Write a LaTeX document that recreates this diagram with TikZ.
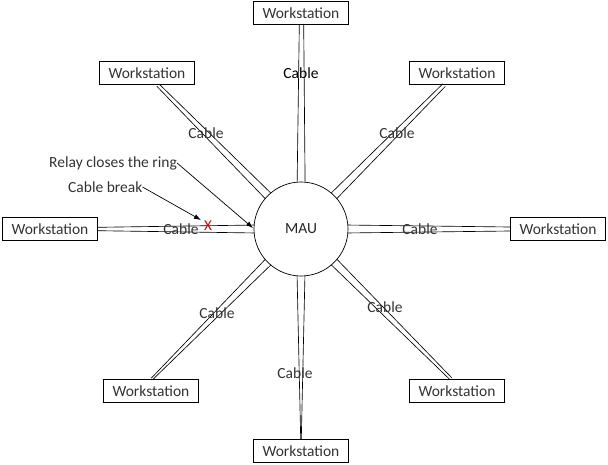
\documentclass[tikz,border=0pt]{standalone}
\usepackage{fontspec}
\setmainfont{Carlito}
\usetikzlibrary{calc,arrows.meta}
\newcommand{\fs}{\fontsize{15.5}{18}\selectfont}
\newcommand{\drawcable}[3]{%
  \coordinate (#3m) at ($(mau.center)!44pt!(#1)$);
  \draw[cable] ($(#3m)!4pt!90:(#1)$) -- ($(#1)!#2!-90:(#3m)$);
  \draw[cable] ($(#3m)!4pt!-90:(#1)$) -- ($(#1)!#2!90:(#3m)$);
}
\begin{document}
\begin{tikzpicture}[x=1pt,y=-1pt,
  ws/.style={draw, line width=0.8pt, minimum width=95pt, minimum height=23.5pt, inner sep=0pt, text=black!80, font=\fs},
  lbl/.style={text=black!80, font=\fs, inner sep=0pt},
  cable/.style={draw=black, line width=0.65pt},
  pointer/.style={draw=black, line width=0.7pt, -{Latex[length=7pt,width=5pt]}}]
\useasboundingbox (0,0) rectangle (608,464);
\node[ws] (wt) at (301,13) {Workstation};
\node[ws] (wtl) at (147,73) {Workstation};
\node[ws] (wtr) at (457,73) {Workstation};
\node[ws] (wl) at (50,229) {Workstation};
\node[ws] (wr) at (558,229) {Workstation};
\node[ws] (wbl) at (151,391) {Workstation};
\node[ws] (wbr) at (457,391) {Workstation};
\node[ws] (wb) at (301,451) {Workstation};
\node[circle, minimum size=94pt, inner sep=0pt] (mau) at (301,229) {};
\coordinate (at) at ($(wt.south)+(0.5,0)$);
\coordinate (atl) at ($(wtl.south)+(11,0)$);
\coordinate (atr) at ($(wtr.south)+(-13,0)$);
\coordinate (al) at (wl.east);
\coordinate (ar) at (wr.west);
\coordinate (abl) at ($(wbl.north)+(1,0)$);
\coordinate (abr) at ($(wbr.north)+(-6,0)$);
\coordinate (ab) at (wb.north);
\drawcable{at}{2.2pt}{ct}
\drawcable{atl}{1.6pt}{ctl}
\drawcable{atr}{1.8pt}{ctr}
\drawcable{al}{1.7pt}{cl}
\drawcable{ar}{2pt}{cr}
\drawcable{abl}{1pt}{cbl}
\drawcable{abr}{1.3pt}{cbr}
\drawcable{ab}{0.3pt}{cb}
\node[draw=black, line width=0.7pt, fill=white, circle, minimum size=94pt, inner sep=0pt, font=\fs, text=black!85] (mau2) at (301,229) {MAU};
\node[lbl, text=black] (lt) at (301,73) {Cable};
\node[lbl] (ltl) at (206,133) {Cable};
\node[lbl] (ltr) at (397,133) {Cable};
\node[lbl] (ll) at (181,229) {Cable};
\node[lbl] (lr) at (420,229) {Cable};
\node[lbl] (lbl1) at (217,313) {Cable};
\node[lbl] (lbr) at (385,307) {Cable};
\node[lbl] (lb) at (295,373) {Cable};
\node[lbl, anchor=west] (relay) at (49,163) {Relay closes the ring};
\node[lbl, anchor=west] (brk) at (68,187) {Cable break};
\coordinate (relayend) at (253,228);
\coordinate (brkend) at (201,220);
\draw[pointer] (relay.east) -- (relayend);
\draw[pointer] (brk.east) -- (brkend);
\node[text=red!85!black, font=\fontsize{15}{17}\selectfont, inner sep=0pt] (x) at (208,226) {X};
\end{tikzpicture}
\end{document}
